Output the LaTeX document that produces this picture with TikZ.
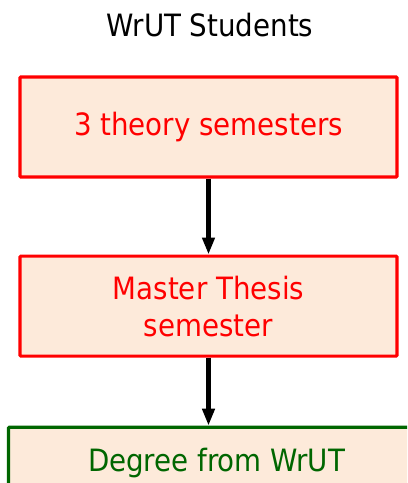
\documentclass[tikz,border=0pt]{standalone}
\usepackage{fontspec}
\setmainfont{DejaVu Sans Condensed}
\usetikzlibrary{arrows.meta,positioning}
\definecolor{boxfill}{RGB}{253,234,218}
\definecolor{thesisred}{RGB}{255,0,0}
\definecolor{degreegreen}{RGB}{0,102,0}

\begin{document}
\begin{tikzpicture}[
  x=0.02cm, y=0.02cm,
  node distance = 1.52cm,
  box/.style  = {rectangle, rounded corners=0.5pt, draw=#1, fill=boxfill,
                 text=#1, line width=1.8pt, minimum width=7.54cm,
                 minimum height=2cm, align=center,
                 font=\fontsize{17.5}{21}\selectfont},
  arr/.style  = {-{Triangle[width=0.24cm, length=0.34cm]}, line width=2.6pt, black},
  ttl/.style  = {font=\fontsize{17.5}{21}\selectfont, anchor=base},
]
\useasboundingbox (0,0) rectangle (407,483);
\clip (0,0) rectangle (407,483);

\node[ttl] (title) at (210,446) {WrUT Students};

\node[box=thesisred] (theory) at (208.5,356) {3 theory semesters};
\node[box=thesisred, below=of theory] (thesis) {Master Thesis\\semester};
\node[box=degreegreen, minimum width=8.32cm, minimum height=1.44cm,
      below=1.36cm of thesis, xshift=0.16cm] (degree) {Degree from WrUT};

\draw[arr] (theory) -- (thesis);
\draw[arr] (thesis.south) -- (thesis.south |- degree.north);
\end{tikzpicture}
\end{document}
